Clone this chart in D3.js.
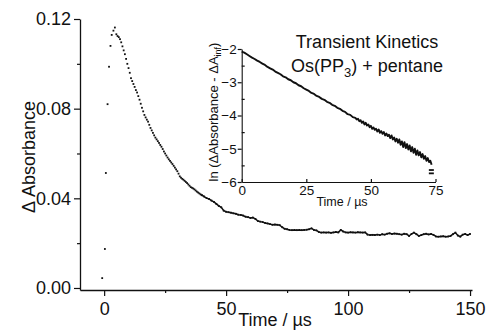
<!DOCTYPE html>
<html><head><meta charset="utf-8">
<script src="https://cdn.jsdelivr.net/npm/d3@7"></script>
<style>body{margin:0;background:#fff}svg{display:block}</style>
</head><body><svg id="c" width="487" height="332"></svg>
<script>
// ---- main trace: delta absorbance vs time (µs) ----
const riseTime = [-0.8, 0.3, 0.7, 1.4, 2.0, 2.6, 3.1, 3.8, 4.4];
const riseAbs  = [0.0044, 0.0174, 0.0513, 0.0820, 0.0987, 0.1080, 0.1129, 0.1148, 0.1162];

const decayTime = [5.0,5.5,6.0,6.5,7.0,7.5,8.0,8.5,9.0,9.5,10.0,10.5,11.0,11.5,12.0,12.5,13.0,13.5,14.0,14.5,
  15.0,15.5,16.0,16.5,17.0,17.5,18.0,18.5,19.0,19.5,20.0,20.5,21.0,21.5,22.0,22.5,23.0,23.5,24.0,24.5,
  25.0,25.5,26.0,26.5,27.0,27.5,28.0,28.5,29.0,29.5,30.0,30.5,31.0,31.5,32.0,32.5,33.0,33.5,34.0,34.5,
  35.0,35.5,36.0,36.5,37.0,37.5,38.0,38.5,39.0,39.5,40.0];
const decayAbs = [0.1132,0.1124,0.1119,0.1110,0.1096,0.1078,0.1060,0.1043,0.1022,0.1000,0.0981,0.0960,0.0936,0.0923,0.0910,0.0897,0.0883,0.0872,0.0856,0.0840,
  0.0822,0.0804,0.0788,0.0772,0.0761,0.0751,0.0742,0.0728,0.0714,0.0703,0.0692,0.0681,0.0671,0.0663,0.0655,0.0647,0.0638,0.0630,0.0620,0.0609,
  0.0600,0.0591,0.0582,0.0574,0.0567,0.0560,0.0553,0.0545,0.0537,0.0529,0.0521,0.0510,0.0498,0.0492,0.0487,0.0483,0.0478,0.0473,0.0468,0.0462,
  0.0456,0.0450,0.0447,0.0444,0.0440,0.0435,0.0430,0.0426,0.0422,0.0418,0.0414];

const tailTime = [41,42,43,44,45,46,47,48,49,50,51,52,53,54,55,56,57,58,59,60,61,62,63,64,65,66,67,68,69,70,
  71,72,73,74,75,76,77,78,79,80,81,82,83,84,85,86,87,88,89,90,91,92,93,94,95,96,97,98,99,100,
  101,102,103,104,105,106,107,108,109,110,111,112,113,114,115,116,117,118,119,120,121,122,123,124,125,126,127,128,129,130,
  131,132,133,134,135,136,137,138,139,140,141,142,143,144,145,146,147,148,149,150];
const tailAbs = [0.0408,0.0401,0.0397,0.0390,0.0384,0.0375,0.0366,0.0360,0.0345,0.0340,0.0338,0.0336,0.0333,0.0331,0.0327,0.0326,0.0323,0.0318,0.0316,0.0312,
  0.0314,0.0308,0.0299,0.0296,0.0294,0.0290,0.0288,0.0285,0.0282,0.0283,0.0282,0.0280,0.0271,0.0264,0.0262,0.0259,0.0258,0.0259,0.0258,0.0259,
  0.0258,0.0259,0.0260,0.0262,0.0266,0.0259,0.0257,0.0250,0.0247,0.0248,0.0247,0.0248,0.0246,0.0248,0.0250,0.0248,0.0259,0.0252,0.0248,0.0247,
  0.0249,0.0248,0.0247,0.0249,0.0248,0.0247,0.0248,0.0238,0.0236,0.0237,0.0236,0.0238,0.0236,0.0240,0.0238,0.0242,0.0244,0.0241,0.0243,0.0242,
  0.0240,0.0238,0.0242,0.0240,0.0232,0.0241,0.0247,0.0240,0.0232,0.0236,0.0240,0.0242,0.0239,0.0241,0.0237,0.0230,0.0229,0.0230,0.0231,0.0229,
  0.0230,0.0232,0.0240,0.0247,0.0234,0.0229,0.0238,0.0241,0.0236,0.0241];

const xTicks = [0, 50, 100, 150];
const xMinorTicks = [25, 75, 125];
const yTicks = [0.00, 0.04, 0.08, 0.12];
const yMinorTicks = [0.02, 0.06, 0.10];

// ---- inset: ln(dA - dA_inf) vs time ----
const insetTime = [0,1,2,3,4,5,6,7,8,9,10,11,12,13,14,15,16,17,18,19,20,21,22,23,24,25,26,27,28,29,
  30,31,32,33,34,35,36,37,38,39,40,41,42,43,44,44.5,45,45.5,46,46.5,47,47.5,48,48.5,49,49.5,50,50.5,51,51.5,
  52,52.5,53,53.5,54,54.5,55,55.5,56,56.5,57,57.5,58,58.5,59,59.5,60,60.5,61,61.5,62,62.5,63,63.5,64,64.5,
  65,65.5,66,66.5,67,67.5,68,68.5,69,69.5,70,70.5,71,71.5,72,72.5,73,73.5];
const insetLn = [-2.08,-2.11,-2.16,-2.21,-2.26,-2.30,-2.35,-2.39,-2.44,-2.48,-2.54,-2.58,-2.62,-2.68,-2.72,-2.76,-2.82,-2.85,-2.91,-2.94,
  -3.00,-3.03,-3.09,-3.12,-3.18,-3.22,-3.26,-3.32,-3.35,-3.41,-3.44,-3.50,-3.53,-3.59,-3.62,-3.68,-3.71,-3.77,-3.80,-3.86,
  -3.89,-3.96,-3.98,-4.05,-4.07,-4.12,-4.10,-4.17,-4.14,-4.22,-4.18,-4.27,-4.22,-4.30,-4.27,-4.35,-4.31,-4.40,-4.36,-4.43,
  -4.40,-4.48,-4.42,-4.52,-4.47,-4.55,-4.50,-4.60,-4.54,-4.62,-4.58,-4.68,-4.60,-4.72,-4.66,-4.78,-4.70,-4.82,-4.72,-4.88,
  -4.78,-4.95,-4.80,-4.98,-4.86,-5.02,-4.90,-5.08,-4.95,-5.12,-5.00,-5.18,-5.05,-5.20,-5.10,-5.26,-5.16,-5.30,-5.22,-5.36,
  -5.28,-5.40,-5.36,-5.48];
const insetStrayTime = [73.2, 73.2];
const insetStrayLn = [-5.64, -5.74];
const insetXTicks = [0, 25, 50, 75];
const insetYTicks = [-2, -3, -4, -5, -6];
const insetYMinor = [-2.5, -3.5, -4.5, -5.5];

// ---- drawing ----
const FONT = '"Liberation Sans", Arial, Helvetica, sans-serif';
const INK = '#111';
const svg = d3.select('#c').style('font-family', FONT);
svg.append('rect').attr('width', 487).attr('height', 332).attr('fill', '#fff');

const x = d3.scaleLinear().domain([-9.9, 150.8]).range([80, 472]);
const y = d3.scaleLinear().domain([-0.0009, 0.12]).range([290, 19]);

function styleAxis(g, size) {
  g.selectAll('path.domain').attr('stroke', INK).attr('stroke-width', 1.3);
  g.selectAll('.tick line').attr('stroke', INK).attr('stroke-width', 1.2);
  g.selectAll('text').attr('fill', INK).style('font-size', size + 'px').style('font-family', FONT);
}

const gx = svg.append('g').attr('transform', 'translate(0,290)')
  .call(d3.axisBottom(x).tickValues(xTicks).tickSize(6).tickSizeOuter(0).tickPadding(6).tickFormat(d3.format('d')));
styleAxis(gx, 18);
const gxm = svg.append('g').attr('transform', 'translate(0,290)')
  .call(d3.axisBottom(x).tickValues(xMinorTicks).tickSize(3).tickSizeOuter(0).tickFormat(''));
gxm.select('path.domain').remove(); styleAxis(gxm, 18);

const gy = svg.append('g').attr('transform', 'translate(80,0)')
  .call(d3.axisLeft(y).tickValues(yTicks).tickSize(6).tickSizeOuter(0).tickPadding(3).tickFormat(d3.format('.2f')));
styleAxis(gy, 18);
const gym = svg.append('g').attr('transform', 'translate(80,0)')
  .call(d3.axisLeft(y).tickValues(yMinorTicks).tickSize(3).tickSizeOuter(0).tickFormat(''));
gym.select('path.domain').remove(); styleAxis(gym, 18);

svg.append('text').attr('transform', 'translate(35,157) rotate(-90)').attr('text-anchor', 'middle')
  .style('font-size', '18px').attr('fill', INK).text('\u0394 Absorbance');
svg.append('text').attr('x', 275).attr('y', 326).attr('text-anchor', 'middle')
  .style('font-size', '18px').attr('fill', INK).text('Time / \u00b5s');

// main data
const mainPts = [];
riseTime.forEach((t, i) => mainPts.push([t, riseAbs[i]]));
decayTime.forEach((t, i) => mainPts.push([t, decayAbs[i]]));
const tailPts = [[decayTime[decayTime.length - 1], decayAbs[decayAbs.length - 1]]];
tailTime.forEach((t, i) => tailPts.push([t, tailAbs[i]]));

svg.append('path').datum(tailPts)
  .attr('d', d3.line().x(d => x(d[0])).y(d => y(d[1])))
  .attr('fill', 'none').attr('stroke', INK).attr('stroke-width', 1.5).attr('stroke-linejoin', 'round');
svg.append('g').selectAll('rect').data(mainPts.concat(tailPts)).join('rect')
  .attr('x', d => x(d[0]) - 0.9).attr('y', d => y(d[1]) - 0.9)
  .attr('width', 1.8).attr('height', 1.8).attr('fill', INK);

// inset
const xi = d3.scaleLinear().domain([0, 75]).range([241.7, 435.5]);
const yi = d3.scaleLinear().domain([-6, -2]).range([182, 49]);

const gix = svg.append('g').attr('transform', 'translate(0,182)')
  .call(d3.axisBottom(xi).tickValues(insetXTicks).tickSizeInner(-3).tickSizeOuter(0).tickPadding(3).tickFormat(d3.format('d')));
styleAxis(gix, 13.5);
const giy = svg.append('g').attr('transform', 'translate(241.7,0)')
  .call(d3.axisLeft(yi).tickValues(insetYTicks).tickSize(4).tickSizeOuter(0).tickPadding(1).tickFormat(d => d3.format('d')(d)));
styleAxis(giy, 13.5);
const giym = svg.append('g').attr('transform', 'translate(241.7,0)')
  .call(d3.axisLeft(yi).tickValues(insetYMinor).tickSize(-3).tickSizeOuter(0).tickFormat(''));
giym.select('path.domain').remove(); styleAxis(giym, 13.5);
gix.selectAll('path.domain').attr('stroke-width', 1.1);
giy.selectAll('path.domain').attr('stroke-width', 1.1);

const insetPts = insetTime.map((t, i) => [t, insetLn[i]]);
svg.append('path').datum(insetPts)
  .attr('d', d3.line().x(d => xi(d[0])).y(d => yi(d[1])))
  .attr('fill', 'none').attr('stroke', INK).attr('stroke-width', 1.9).attr('stroke-linejoin', 'round');
svg.append('g').selectAll('rect').data(insetStrayTime.map((t, i) => [t, insetStrayLn[i]])).join('rect')
  .attr('x', d => xi(d[0]) - 2).attr('y', d => yi(d[1]) - 0.9).attr('width', 5).attr('height', 1.8).attr('fill', INK);

const iyl = svg.append('text').attr('transform', 'translate(218,112) rotate(-90)').attr('text-anchor', 'middle')
  .style('font-size', '13px').attr('fill', INK);
iyl.append('tspan').text('ln (\u0394Absorbance - \u0394A');
iyl.append('tspan').attr('dy', 3).style('font-size', '9px').text('inf');
iyl.append('tspan').attr('dy', -3).text(')');

svg.append('text').attr('x', 342).attr('y', 206).attr('text-anchor', 'middle')
  .style('font-size', '12.5px').attr('fill', INK).text('Time / \u00b5s');

svg.append('text').attr('x', 367).attr('y', 48).attr('text-anchor', 'middle')
  .style('font-size', '18px').attr('fill', INK).text('Transient Kinetics');
const t2 = svg.append('text').attr('x', 367).attr('y', 72).attr('text-anchor', 'middle')
  .style('font-size', '18px').attr('fill', INK);
t2.append('tspan').text('Os(PP');
t2.append('tspan').attr('dy', 5).style('font-size', '13px').text('3');
t2.append('tspan').attr('dy', -5).text(') + pentane');
</script></body></html>
